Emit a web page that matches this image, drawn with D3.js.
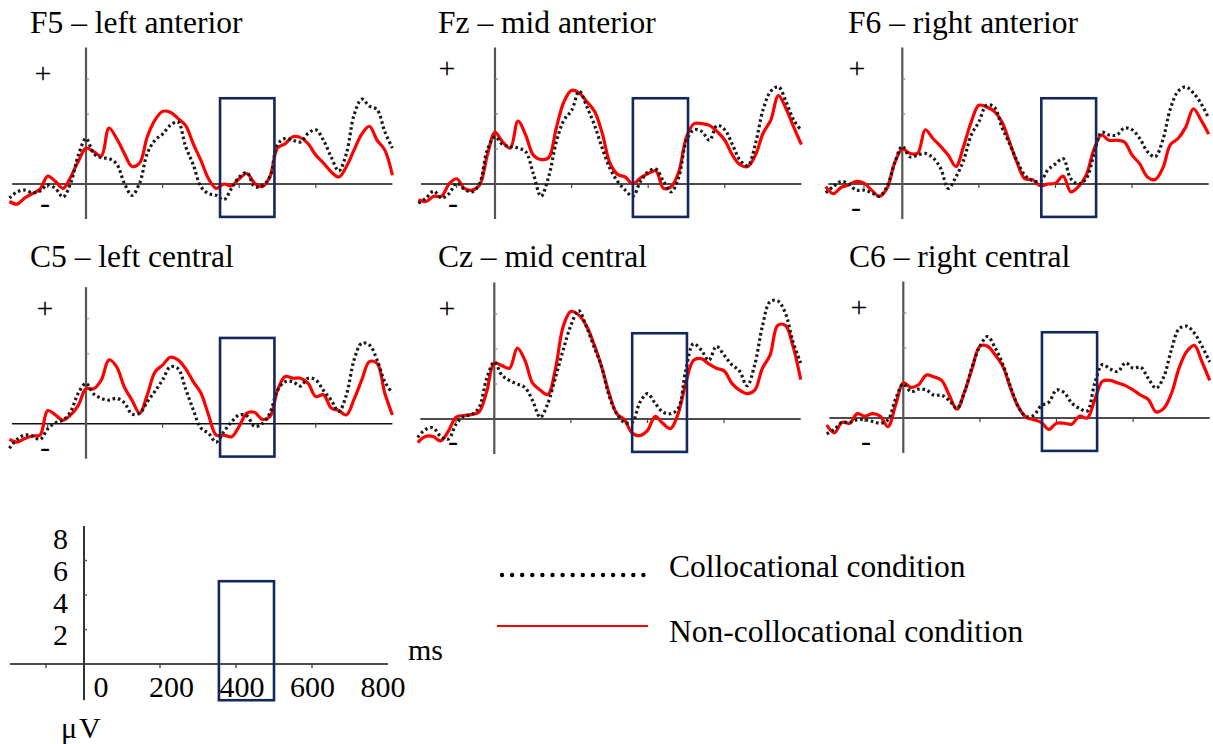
<!DOCTYPE html>
<html><head><meta charset="utf-8">
<script src="https://cdn.jsdelivr.net/npm/d3@7"></script>
<style>
body{margin:0;background:#fff}
svg{display:block}
</style>
</head><body>
<svg id="c" width="1213" height="744"></svg>
<script>
// ---------- DATA ----------
const times = [-200,-180,-160,-140,-120,-100,-80,-60,-40,-20,0,20,40,60,80,100,120,140,160,180,200,220,240,260,280,300,320,340,360,380,400,420,440,460,480,500,520,540,560,580,600,620,640,660,680,700,720,740,760,780,800];

const titles = ["F5 \u2013 left anterior","Fz \u2013 mid anterior","F6 \u2013 right anterior","C5 \u2013 left central","Cz \u2013 mid central","C6 \u2013 right central"];
const seriesNames = ["Collocational condition","Non-collocational condition"];

// Collocational (black dotted) / Non-collocational (red) in µV
const f5Col = [-0.8,-0.45,-0.35,-0.5,-0.4,-0.05,-0.25,-0.75,0.05,1.65, 2.6, 1.75,1.5,1.45,1.15,0.05,-0.65,0.05,1.75,2.5, 2.85, 3.35,3.55,2.15,1.1,-0.15, -0.55,-0.65,-0.9,-0.25,0.4, 0.65,-0.15,-0.1,0.4,2.25, 2.6,2.5,2.4,2.9,3.1, 2.5,1.55,0.75,1.75,3.95, 4.85,4.45,4.25,3.0,2.05];
const f5Non = [-1.0,-1.15,-0.8,-0.55,-0.3,0.45,0.15,-0.25,0.4,1.3, 2.05, 1.85,1.6,3.2,2.6,1.75,1.0,1.2,2.7,3.65, 4.15, 4.1,3.75,3.35,2.3,1.35, 0.3,-0.25,0.0,-0.1,0.3, 0.6,0.05,-0.15,0.4,2.05, 2.3,2.7,2.65,2.3,1.65, 1.2,0.7,0.4,1.0,1.95, 2.85,3.3,2.5,1.95,0.5];
const fzCol = [-1.1,-0.8,-0.4,-0.8,-0.55,0.05,-0.3,-0.45,0.05,1.95, 2.7, 2.25,2.15,2.05,1.85,0.6,-0.7,0.4,2.4,3.65, 4.2, 5.3,4.4,3.35,2.05,0.9, 0.15,-0.35,-0.7,0.15,0.7, 0.85,0.15,-0.45,0.4,2.5, 3.1,3.0,2.5,3.35,3.1, 2.25,1.35,1.05,2.3,4.25, 5.3,5.55,4.7,3.65,3.05];
const fzNon = [-0.9,-1.0,-0.7,-0.7,0.0,0.3,-0.25,-0.35,-0.05,1.65, 2.95, 2.4,2.05,3.6,2.8,1.65,1.4,1.5,3.2,4.7, 5.35, 5.2,4.7,4.15,2.9,1.2, 0.55,0.4,0.0,0.35,0.6, 0.75,-0.25,-0.15,0.7,2.7, 3.45,3.45,3.35,3.0,2.5, 1.65,1.1,1.0,1.65,2.9, 3.65,5.05,4.3,3.25,2.25];
const f6Col = [-0.5,-0.15,0.15,0.0,-0.35,-0.35,-0.5,-0.7,-0.15,1.2, 2.15, 1.55,1.65,1.75,1.5,0.9,-0.25,0.4,1.35,2.8, 3.55, 4.5,4.4,3.25,2.3,1.3, 0.5,0.2,0.15,0.8,1.15, 1.45,0.3,0.0,0.3,1.65, 2.95,2.8,2.8,3.2,3.1, 2.6,1.85,1.55,2.5,4.3, 5.3,5.55,5.2,4.6,3.75];
const f6Non = [-0.15,-0.55,-0.2,-0.05,0.15,0.05,-0.35,-0.7,-0.25,1.2, 2.0, 1.75,1.75,3.1,2.6,2.15,1.65,1.0,2.15,3.55, 4.5, 4.4,4.15,3.55,2.4,1.2, 0.3,0.25,-0.1,0.0,0.05, 0.45,-0.45,-0.15,0.5,1.95, 2.8,2.5,2.5,2.4,1.65, 1.15,0.4,0.25,0.9,2.25, 2.6,3.25,4.3,3.65,2.85];
const c5Col = [-1.4,-0.9,-0.65,-0.7,-0.9,-0.3,0.05,0.2,0.7,1.75, 2.3, 1.7,1.45,1.35,1.45,1.2,0.55,0.6,1.25,1.85, 2.5, 3.25,3.15,2.0,0.8,-0.25, -0.55,-1.05,-0.45,0.1,0.5, 0.45,-0.15,0.0,0.6,1.9, 2.4,2.4,2.15,2.6,2.5, 1.9,1.35,0.7,1.65,3.65, 4.6,4.5,3.65,2.4,1.75];
const c5Non = [-0.9,-1.05,-0.85,-0.7,-0.65,0.75,0.5,0.2,0.5,1.05, 2.0, 2.0,2.5,3.65,3.25,2.1,1.35,0.6,1.65,2.95, 3.35, 3.8,3.65,3.15,2.4,1.75, 0.5,-0.65,-0.65,-0.75,-0.15, 0.6,0.65,0.25,0.4,1.9, 2.7,2.6,2.6,2.3,1.55, 1.65,0.9,0.75,0.5,1.4, 2.5,3.55,3.45,1.75,0.5];
const czCol = [-1.05,-0.6,-0.5,-1.0,-1.15,-0.3,0.15,0.25,0.65,2.3, 3.25, 2.5,2.2,2.0,1.8,1.05,0.1,0.9,2.4,3.95, 5.35, 6.2,5.3,4.15,3.0,1.3, 0.3,-0.2,-0.2,0.95,1.45, 0.9,0.4,0.3,0.6,2.8, 4.3,3.95,3.35,4.15,3.65, 3.1,2.75,1.9,3.1,5.3, 6.7,6.75,6.05,4.4,3.2];
const czNon = [-1.35,-1.0,-1.0,-1.25,-0.7,0.1,0.2,0.25,0.4,1.55, 3.2, 3.05,2.9,4.05,3.35,2.05,1.65,1.4,2.9,5.3, 6.15, 5.95,5.35,4.3,3.0,1.45, 0.3,-0.05,-0.8,-0.95,-0.65, 0.15,-0.25,-0.55,0.3,2.05, 3.35,3.45,3.15,2.9,2.75, 2.05,1.65,1.45,1.65,2.9, 3.65,5.35,5.35,4.15,2.25];
const c6Col = [-0.9,-0.65,-0.25,-0.25,-0.1,-0.1,-0.2,-0.3,-0.1,1.1, 1.95, 1.5,1.65,1.6,1.3,1.3,1.0,0.55,1.5,2.95, 4.1, 4.65,4.0,3.05,1.8,0.65, 0.1,0.15,0.7,0.9,1.6, 1.45,0.85,0.55,0.4,2.0, 3.05,2.8,2.65,3.15,2.85, 2.9,2.25,1.7,2.35,3.9, 5.1,5.25,4.85,4.1,3.2];
const c6Non = [-0.4,-0.85,-0.25,-0.3,0.25,0.1,0.25,0.1,-0.5,0.75, 2.0, 1.75,1.9,2.45,2.35,2.15,1.3,0.5,1.5,2.85, 4.1, 4.1,3.6,2.95,1.7,0.65, 0.05,-0.1,-0.25,-0.65,-0.3, -0.3,-0.35,0.1,0.0,1.05, 2.1,2.15,2.0,1.85,1.6, 1.3,1.05,0.35,0.55,1.4, 2.85,3.8,4.15,3.2,2.15];

// analysis window (ms) and its vertical extent (µV)
const boxStart = [350,360,363,350,360,362];
const boxEnd   = [492,504,506,492,503,506];
const boxTop = 4.9, boxBottom = -1.88;

// calibration panel
const scaleYTicks = [2,4,6,8];
const scaleXTicks = [0,200,400,600,800];
const minorXTicks = [-100,200,400,600];
const scaleBox = {start:355, end:500, top:4.8, bottom:-2.1};

// ---------- FONT PICK (serif, Times-like) ----------
function hasFont(f){
  const c = document.createElement("canvas").getContext("2d");
  const s = "mmmmmmmmmmlliWWW@#0123456789";
  let diff = false;
  ["monospace","sans-serif"].forEach(base=>{
    c.font = "72px " + base; const a = c.measureText(s).width;
    c.font = '72px "' + f + '", ' + base; const b = c.measureText(s).width;
    if (Math.abs(a-b) > 0.5) diff = true;
  });
  return diff;
}
const fontList = ["Liberation Serif","Times New Roman","Tinos","Nimbus Roman","Noto Serif","DejaVu Serif"];
const FONT = (fontList.find(hasFont) || "serif");
// DejaVu/Noto Serif are wider than Times; shrink to keep the same text widths
const FS = (FONT==="DejaVu Serif" || FONT==="Noto Serif") ? 0.84 : 1.0;
const fontFamily = '"' + FONT + '", serif';

// ---------- LAYOUT ----------
const svg = d3.select("#c");
svg.append("rect").attr("width",1213).attr("height",744).attr("fill","#fff");

const layout = [
  {ox:86,   oy:184, tx:30,  ty:33,  plus:[43,75],  minus:[45,205]},
  {ox:495,  oy:184, tx:438, ty:33,  plus:[447,70], minus:[453,205]},
  {ox:902.3,oy:184, tx:848, ty:33,  plus:[857,70], minus:[856,209]},
  {ox:86,   oy:423.7,tx:30, ty:267, plus:[45,310], minus:[45,449]},
  {ox:494.3,oy:419, tx:438, ty:267, plus:[447,310],minus:[453,443]},
  {ox:903.3,oy:418, tx:849, ty:267, plus:[859,309],minus:[866,443]}
];
const seriesCol = [f5Col,fzCol,f6Col,c5Col,czCol,c6Col];
const seriesNon = [f5Non,fzNon,f6Non,c5Non,czNon,c6Non];

const PXMS = 0.383, PXUV = 17.5;
const red = "#ff0000", navy = "#13285c";

function txt(g, x, y, size, s){
  return g.append("text").attr("x",x).attr("y",y).attr("font-family",fontFamily)
    .attr("font-size",size*FS).attr("fill","#000").text(s);
}

layout.forEach((L,i)=>{
  const x = d3.scaleLinear().domain([-200,800]).range([L.ox-200*PXMS, L.ox+800*PXMS]);
  const y = d3.scaleLinear().domain([-2,8]).range([L.oy+2*PXUV, L.oy-8*PXUV]);
  const g = svg.append("g");

  txt(g, L.tx, L.ty, 31.5, titles[i]);

  // axes
  g.append("line").attr("x1",x(-193)).attr("x2",x(800)).attr("y1",y(0)).attr("y2",y(0))
    .attr("stroke","#111").attr("stroke-width",1.6);
  g.append("line").attr("x1",x(0)).attr("x2",x(0)).attr("y1",y(7.8)).attr("y2",y(-2))
    .attr("stroke","#555").attr("stroke-width",2.2);
  g.selectAll(".yt").data([2,4,6]).join("line")
    .attr("x1",x(0)).attr("x2",x(0)+3).attr("y1",d=>y(d)).attr("y2",d=>y(d))
    .attr("stroke","#888").attr("stroke-width",1.2);
  g.selectAll(".xt").data(minorXTicks).join("line")
    .attr("x1",d=>x(d)).attr("x2",d=>x(d)).attr("y1",y(0)-1).attr("y2",y(0)+4)
    .attr("stroke","#444").attr("stroke-width",1.2);

  // polarity signs
  txt(g, L.plus[0], L.plus[1]+8, 30, "+").attr("text-anchor","middle");
  txt(g, L.minus[0], L.minus[1]+8, 30, "-").attr("text-anchor","middle");

  const line = d3.line().x((d,k)=>x(times[k])).y(d=>y(d)).curve(d3.curveCatmullRom.alpha(0.5));

  g.append("path").attr("d",line(seriesNon[i])).attr("fill","none")
    .attr("stroke",red).attr("stroke-width",3.2).attr("stroke-linejoin","round");
  g.append("path").attr("d",line(seriesCol[i])).attr("fill","none")
    .attr("stroke","#1a1a1a").attr("stroke-width",3.2).attr("stroke-dasharray","2.6,2.8");

  g.append("rect").attr("x",x(boxStart[i])).attr("y",y(boxTop))
    .attr("width",x(boxEnd[i])-x(boxStart[i])).attr("height",y(boxBottom)-y(boxTop))
    .attr("fill","none").attr("stroke",navy).attr("stroke-width",2.6);
});

// ---------- CALIBRATION PANEL ----------
(function(){
  const ox=84, oy=664, pxms=0.38, pxuv=17.25;
  const x = d3.scaleLinear().domain([-200,800]).range([ox-200*pxms, ox+800*pxms]);
  const y = d3.scaleLinear().domain([-2.1,8]).range([oy+2.1*pxuv, oy-8*pxuv]);
  const lx = d3.scaleLinear().domain([0,800]).range([101,383]);
  const ly = d3.scaleLinear().domain([2,8]).range([635,539]);
  const g = svg.append("g");
  g.append("line").attr("x1",x(-195)).attr("x2",x(800)).attr("y1",y(0)).attr("y2",y(0))
    .attr("stroke","#111").attr("stroke-width",1.6);
  g.append("line").attr("x1",x(0)).attr("x2",x(0)).attr("y1",y(8)).attr("y2",y(-2.1))
    .attr("stroke","#333").attr("stroke-width",2);
  g.selectAll(".yt").data(scaleYTicks.slice(0,3)).join("line")
    .attr("x1",x(0)).attr("x2",x(0)+3).attr("y1",d=>y(d)).attr("y2",d=>y(d))
    .attr("stroke","#555").attr("stroke-width",1.4);
  g.selectAll(".xt").data(minorXTicks).join("line")
    .attr("x1",d=>x(d)).attr("x2",d=>x(d)).attr("y1",y(0)).attr("y2",y(0)+4)
    .attr("stroke","#444").attr("stroke-width",1.4);
  scaleYTicks.forEach(d=>txt(g, 68, ly(d)+10, 30, d).attr("text-anchor","end"));
  scaleXTicks.forEach(d=>txt(g, lx(d), 697, 30, d).attr("text-anchor","middle"));
  txt(g, 408, 660, 30, "ms");
  txt(g, 61, 738, 30, "\u03bcV").attr("letter-spacing",2);
  g.append("rect").attr("x",x(scaleBox.start)).attr("y",y(scaleBox.top))
    .attr("width",x(scaleBox.end)-x(scaleBox.start)).attr("height",y(scaleBox.bottom)-y(scaleBox.top))
    .attr("fill","none").attr("stroke",navy).attr("stroke-width",2.6);
})();

// ---------- LEGEND ----------
const lg = svg.append("g");
lg.append("line").attr("x1",502).attr("x2",644).attr("y1",575).attr("y2",575)
  .attr("stroke","#000").attr("stroke-width",4.4).attr("stroke-linecap","round")
  .attr("stroke-dasharray","0,10.1");
txt(lg, 669, 577, 31.5, seriesNames[0]);
lg.append("line").attr("x1",497).attr("x2",648).attr("y1",626).attr("y2",626)
  .attr("stroke",red).attr("stroke-width",2);
txt(lg, 669, 642, 31.5, seriesNames[1]);
</script>
</body></html>
